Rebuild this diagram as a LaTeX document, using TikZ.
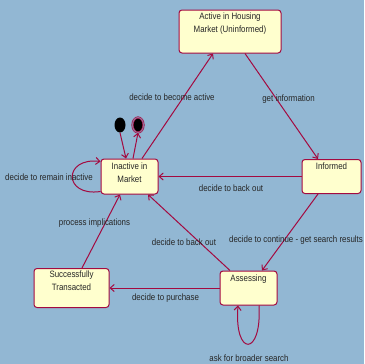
\documentclass[tikz,border=0pt]{standalone}
\usepackage{fontspec}
\setmainfont{Liberation Sans}[FakeStretch=0.86]
\usetikzlibrary{arrows.meta,positioning,shapes.geometric,calc}
\definecolor{skyback}{RGB}{146,183,211}
\definecolor{crimson}{RGB}{163,10,64}
\definecolor{cream}{RGB}{255,255,206}
\tikzset{
  state/.style={draw=crimson,line width=1pt,rounded corners=3pt,fill=cream,inner sep=0pt},
  txt/.style={font=\fontsize{9.2}{12.5}\selectfont,text=black!85,align=center,inner sep=0pt},
  pseudo/.style={ellipse,fill=black,inner sep=0pt,minimum width=11pt,minimum height=15pt},
  trans/.style={-{Straight Barb[length=4pt,width=7pt]},draw=crimson,line width=1pt}
}

\begin{document}
\begin{tikzpicture}[x=1pt,y=-1pt]
  \fill[skyback] (0,0) rectangle (364,364);
  \useasboundingbox (0,0) rectangle (364,364);

  % states
  \node[state,minimum width=102pt,minimum height=43pt,
    label={[txt,anchor=north,yshift=-3.5pt]north:{Active in Housing\\Market (Uninformed)}}] (active) at (230,31.5) {};
  \node[state,minimum width=57pt,minimum height=35pt,
    label={[txt,anchor=north,yshift=-4.5pt]north:{Inactive in\\Market}}] (inactive) at (129.5,176.5) {};
  \node[state,minimum width=59pt,minimum height=34pt,
    label={[txt,anchor=north,yshift=-4pt]north:{Informed}}] (informed) at (331.5,176.5) {};
  \node[state,minimum width=75pt,minimum height=39pt,
    label={[txt,anchor=north,yshift=-3pt]north:{Successfully\\Transacted}}] (success) at (71.5,288) {};
  \node[state,minimum width=57pt,minimum height=34pt,
    label={[txt,anchor=north,yshift=-4pt]north:{Assessing}}] (assessing) at (248.5,288) {};

  % start and end
  \node[pseudo] (init) at (120,125) {};
  \node[pseudo,draw=crimson,line width=0.6pt,double=skyback!60!crimson,double distance=1pt] (final) at (138,125) {};

  % transitions
  \draw[trans] ([xshift=12.5pt]inactive.north) -- ([xshift=-17pt]active.south);
  \draw[trans] ([xshift=15pt]active.south) -- ([xshift=-13.5pt]informed.north);
  \draw[trans] (informed.west) -- (inactive.east);
  \draw[trans] ([xshift=-13.5pt]informed.south) -- ([xshift=13.5pt]assessing.north);
  \draw[trans] ([xshift=-18.5pt]assessing.north) -- ([xshift=18.5pt]inactive.south);
  \draw[trans] (assessing.west) -- (success.east);
  \draw[trans] ([xshift=10.5pt]success.north) -- ([xshift=-9.5pt]inactive.south);
  \draw[trans] (init.south) -- ([xshift=-3.5pt]inactive.north);
  \draw[trans] ([xshift=3.5pt]inactive.north) -- (final.south);
  \draw[trans] ([yshift=-15pt]inactive.west) .. controls (63,197) and (63,157) .. ([yshift=15pt]inactive.west);
  \draw[trans] ([xshift=10.5pt]assessing.south) .. controls (262,357) and (234,357) .. ([xshift=-10.5pt]assessing.south);

  % labels
  \node[txt] (lbecome) at (172,97) {decide to become active};
  \node[txt] (linfo) at (288.5,99) {get information};
  \node[txt] (lback1) at (231,188) {decide to back out};
  \node[txt] (lcont) at (296,240) {decide to continue - get search results};
  \node[txt] (lback2) at (184,242) {decide to back out};
  \node[txt] (lbuy) at (165.5,298) {decide to purchase};
  \node[txt] (limpl) at (94.5,223) {process implications};
  \node[txt] (lremain) at (49,177) {decide to remain inactive};
  \node[txt] (lbroad) at (249,358) {ask for broader search};
\end{tikzpicture}
\end{document}
